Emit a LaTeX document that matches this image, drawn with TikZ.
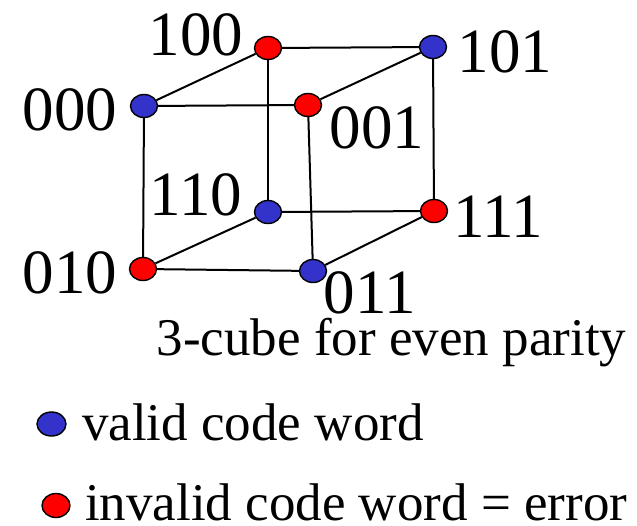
\documentclass[tikz,border=0pt]{standalone}
\usepackage{fontspec}
\setmainfont{Liberation Serif}
\usetikzlibrary{shapes.geometric}
\definecolor{validblue}{RGB}{51,51,204}
\tikzset{
  vtx/.style={ellipse, draw=black, line width=1.4pt, minimum width=27pt, minimum height=23pt, inner sep=0pt},
  valid/.style={vtx, fill=validblue},
  invalid/.style={vtx, fill=red},
  lbl/.style={anchor=base, inner sep=0pt, font=\fontsize{63}{70}\selectfont},
  txt/.style={anchor=base, inner sep=0pt, font=\fontsize{53}{60}\selectfont},
  edge/.style={line width=2pt, black}
}
\begin{document}
\begin{tikzpicture}[x=1pt,y=-1pt]
\useasboundingbox (0,0) rectangle (637,525);
% vertices
\node[invalid] (v100) at (268,48) {};
\node[valid]   (v101) at (433,47) {};
\node[valid]   (v000) at (144,106) {};
\node[invalid] (v001) at (308,105) {};
\node[valid]   (v110) at (268,212) {};
\node[invalid] (v111) at (434,211) {};
\node[invalid] (v010) at (143,269) {};
\node[valid]   (v011) at (313,271) {};
% edges
\draw[edge] (v000) -- (v100);
\draw[edge] (v000) -- (v001);
\draw[edge] (v100) -- (v101);
\draw[edge] (v001) -- (v101);
\draw[edge] (v000) -- (v010);
\draw[edge] (v100) -- (v110);
\draw[edge] (v001) -- (v011);
\draw[edge] (v101) -- (v111);
\draw[edge] (v010) -- (v110);
\draw[edge] (v010) -- (v011);
\draw[edge] (v110) -- (v111);
\draw[edge] (v011) -- (v111);
% labels
\node[lbl] (l100) at (196,55) {100};
\node[lbl] (l000) at (70,130) {000};
\node[lbl] (l101) at (505,72) {101};
\node[lbl] (l001) at (377,148) {001};
\node[lbl] (l110) at (196,215) {110};
\node[lbl] (l010) at (70,293) {010};
\node[lbl] (l111) at (498,237) {111};
\node[lbl] (l011) at (370,313) {011};
% caption
\node[txt] (cap) at (391.5,355) {3-cube for even parity};
% legend
\node[valid, minimum width=29pt, minimum height=24pt] (kvalid) at (51.5,424) {};
\node[txt, anchor=base west] (tvalid) at (82,440) {valid code word};
\node[invalid, minimum width=28pt, minimum height=24pt] (kinvalid) at (56,505.5) {};
\node[txt, anchor=base west] (tinvalid) at (85,520) {invalid code word = error};
\end{tikzpicture}
\end{document}
